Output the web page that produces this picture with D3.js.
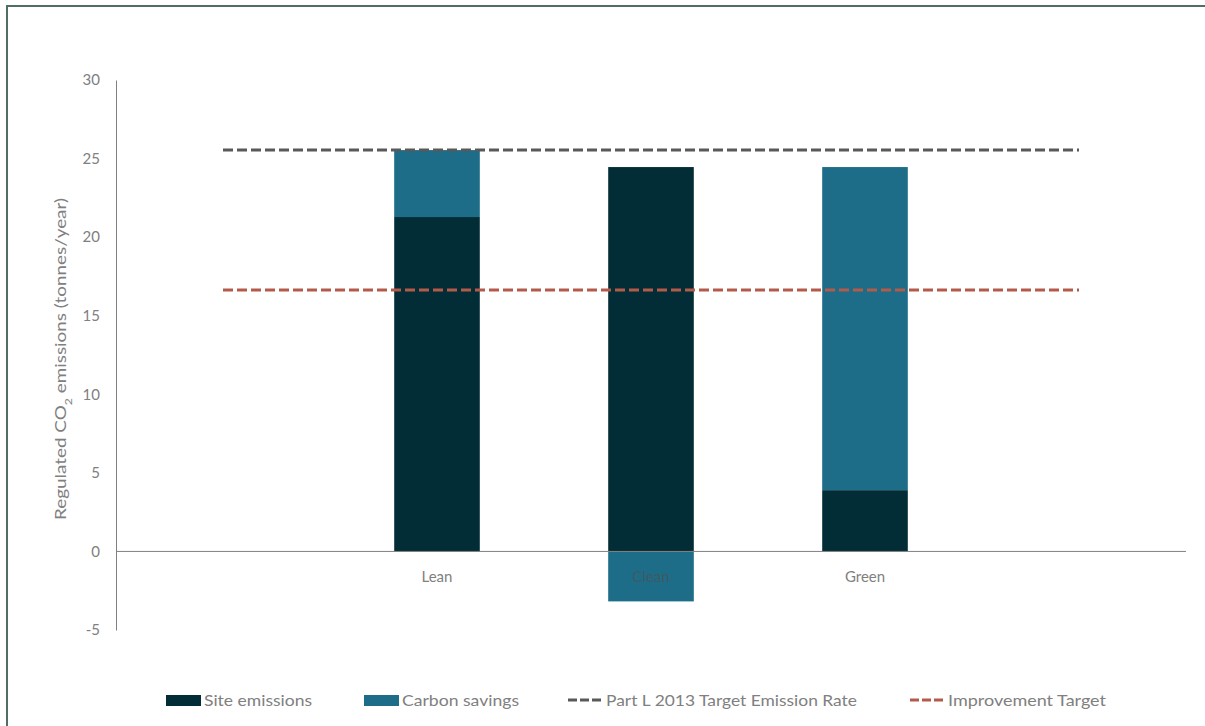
<!DOCTYPE html>
<html><head><meta charset="utf-8">
<script src="https://cdn.jsdelivr.net/npm/d3@7"></script>
<style>body{margin:0;background:#fff}svg{display:block}text{font-family:Lato,"Open Sans",sans-serif}</style>
</head><body><svg id="c" width="1205" height="726"></svg>
<script>
const categories = ["", "Lean", "Clean", "Green", ""];
const siteEmissions = [null, 21.28, 24.46, 3.9, null];
const carbonSavings = [null, 4.26, -3.18, 20.56, null];
const targetEmissionRate = 25.54;
const improvementTarget = 16.64;
const yTicks = [-5, 0, 5, 10, 15, 20, 25, 30];
const legendLabels = ["Site emissions", "Carbon savings", "Part L 2013 Target Emission Rate", "Improvement Target"];
const colors = {site:"#032d36", savings:"#1d6d89", ter:"#595959", imp:"#b35a4b"};

const svg = d3.select("#c");
svg.append("rect").attr("x",7).attr("y",6).attr("width",1210).attr("height",740)
  .attr("fill","none").attr("stroke","#4e6e66").attr("stroke-width",2);

const x = d3.scaleBand().domain(d3.range(categories.length)).range([116,1186]).paddingInner(0.6).paddingOuter(0.3);
const y = d3.scaleLinear().domain([-5,30]).range([630,80]);

// y axis
const ya = svg.append("g").attr("transform","translate(116,0)")
  .call(d3.axisLeft(y).tickValues(yTicks).tickFormat(d=>String(d)).tickSize(0).tickPadding(16));
ya.select(".domain").attr("stroke","#808080");
ya.selectAll("text").attr("fill","#808080").style("font-size","15px").style("font-family","Lato");

// bars
const g = svg.append("g");
categories.forEach((c,i)=>{
  if(siteEmissions[i]==null) return;
  const s = siteEmissions[i], v = carbonSavings[i];
  g.append("rect").attr("x",x(i)).attr("width",x.bandwidth())
    .attr("y",y(s)).attr("height",y(0)-y(s)).attr("fill",colors.site);
  if(v>=0){
    g.append("rect").attr("x",x(i)).attr("width",x.bandwidth())
      .attr("y",y(s+v)).attr("height",y(s)-y(s+v)).attr("fill",colors.savings);
  } else {
    g.append("rect").attr("x",x(i)).attr("width",x.bandwidth())
      .attr("y",y(0)).attr("height",y(v)-y(0)).attr("fill",colors.savings);
  }
});

// x axis line at zero
const xa = svg.append("g").attr("transform",`translate(0,${y(0)})`)
  .call(d3.axisBottom(x).tickFormat(i=>categories[i]).tickSize(0).tickPadding(20));
xa.select(".domain").attr("stroke","#808080").attr("d","M116,0H1186");
xa.selectAll("text").attr("fill","#808080").style("font-size","15px").style("font-family","Lato");
xa.selectAll(".tick").filter(i=>categories[i]==="Clean").select("text").attr("fill","#3f5a62");

// target lines
const x0 = x(0)+x.bandwidth()/2, x1 = x(categories.length-1)+x.bandwidth()/2;
svg.append("line").attr("x1",x0).attr("x2",x1).attr("y1",y(targetEmissionRate)).attr("y2",y(targetEmissionRate))
  .attr("stroke",colors.ter).attr("stroke-width",3).attr("stroke-dasharray","10,4");
svg.append("line").attr("x1",x0).attr("x2",x1).attr("y1",y(improvementTarget)).attr("y2",y(improvementTarget))
  .attr("stroke",colors.imp).attr("stroke-width",3).attr("stroke-dasharray","10,4");

// y title
svg.append("text").attr("transform","translate(66,359) rotate(-90)").attr("text-anchor","middle")
  .attr("fill","#808080").style("font-size","15.5px")
  .attr("textLength",322).attr("lengthAdjust","spacingAndGlyphs")
  .html('Regulated CO<tspan baseline-shift="sub" font-size="10px">2</tspan> emissions (tonnes/year)');

// legend
const lx = [166, 364, 568, 910];
const lw = [108, 117, 251, 158];
const ly = 700;
legendLabels.forEach((t,i)=>{
  if(i<2){
    svg.append("rect").attr("x",lx[i]).attr("y",ly-5).attr("width",35).attr("height",11)
      .attr("fill", i==0?colors.site:colors.savings);
  } else {
    svg.append("line").attr("x1",lx[i]).attr("x2",lx[i]+35).attr("y1",ly).attr("y2",ly)
      .attr("stroke", i==2?colors.ter:colors.imp).attr("stroke-width",3).attr("stroke-dasharray","9,3");
  }
  svg.append("text").attr("x",lx[i]+38).attr("y",ly).attr("dy","0.35em")
    .attr("fill","#808080").style("font-size","16px")
    .attr("textLength",lw[i]).attr("lengthAdjust","spacingAndGlyphs").text(t);
});
</script></body></html>
